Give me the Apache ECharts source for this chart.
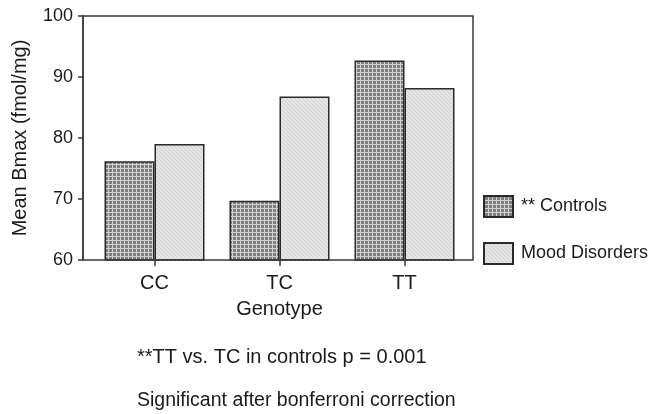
<!DOCTYPE html>
<html>
<head>
<meta charset="utf-8">
<script src="https://cdn.jsdelivr.net/npm/echarts@6/dist/echarts.min.js"></script>
<style>html,body{margin:0;padding:0;background:#fff}#c{width:664px;height:414px}</style>
</head>
<body>
<div id="c"></div>
<script>
var categories = ['CC', 'TC', 'TT'];
var controls = [76.2, 69.7, 92.7];
var moodDisorders = [79.0, 86.8, 88.2];
var seriesNames = ['** Controls', 'Mood Disorders'];
var yTicks = [60, 70, 80, 90, 100];
var footnote1 = '**TT vs. TC in controls p = 0.001';
var footnote2 = 'Significant after bonferroni correction';

function makePattern(kind) {
  var c = document.createElement('canvas');
  var ctx = c.getContext('2d');
  c.width = 4; c.height = 4;
  if (kind === 'grid') {
    ctx.fillStyle = '#7e7e7e';
    ctx.fillRect(0, 0, 4, 4);
    ctx.fillStyle = '#d2d2d2';
    ctx.fillRect(0, 0, 4, 1);
    ctx.fillRect(0, 0, 1, 4);
  } else {
    ctx.fillStyle = '#e4e4e4';
    ctx.fillRect(0, 0, 4, 4);
    ctx.fillStyle = '#d0d0d0';
    for (var i = 0; i < 4; i++) ctx.fillRect(i, i, 1, 1);
  }
  return c;
}

var font = 'Liberation Sans, Arial, Helvetica, sans-serif';
var txt = '#1a1a1a';
var chart = echarts.init(document.getElementById('c'), null, {renderer: 'canvas'});
chart.setOption({
  animation: false,
  backgroundColor: '#fff',
  textStyle: {fontFamily: font, color: txt},
  grid: {left: 92, right: 197, top: 16, bottom: 154},
  graphic: [{
    type: 'rect',
    shape: {x: 83, y: 16, width: 390, height: 244},
    style: {fill: 'none', stroke: '#3a3a3a', lineWidth: 1.5},
    z: 10
  }],
  title: [
    {text: footnote1, left: 137, top: 347, padding: 0, textStyle: {fontFamily: font, fontSize: 20, fontWeight: 'normal', color: txt}},
    {text: footnote2, left: 137, top: 391, padding: 0, textStyle: {fontFamily: font, fontSize: 19.5, fontWeight: 'normal', color: txt}}
  ],
  legend: {
    orient: 'vertical',
    left: 478, top: 190,
    icon: 'rect',
    itemWidth: 29, itemHeight: 21, itemGap: 24,
    textStyle: {fontFamily: font, fontSize: 18, color: txt, padding: [0, 0, 0, 3]},
    data: seriesNames
  },
  xAxis: {
    type: 'category',
    data: categories,
    axisLine: {show: false},
    axisTick: {show: true, alignWithLabel: true, length: 6, lineStyle: {color: '#3a3a3a', width: 1.5}},
    axisLabel: {fontSize: 20, color: txt, margin: 13, fontFamily: font},
    name: 'Genotype',
    nameLocation: 'middle',
    nameGap: 39,
    nameTextStyle: {fontSize: 20, color: txt, fontFamily: font}
  },
  yAxis: {
    type: 'value',
    min: yTicks[0], max: yTicks[yTicks.length - 1], interval: 10,
    offset: 9,
    splitLine: {show: false},
    axisLine: {show: true, lineStyle: {color: '#3a3a3a', width: 1.5}},
    axisTick: {show: true, length: 5, lineStyle: {color: '#3a3a3a', width: 1.5}},
    axisLabel: {fontSize: 18, color: txt, margin: 10, fontFamily: font},
    name: 'Mean Bmax (fmol/mg)',
    nameLocation: 'middle',
    nameGap: 53,
    nameTextStyle: {fontSize: 20, color: txt, fontFamily: font}
  },
  series: [{
    name: seriesNames[0], type: 'bar', data: controls,
    barWidth: 50, barGap: '0%',
    itemStyle: {color: {image: makePattern('grid'), repeat: 'repeat'}, borderColor: '#2a2a2a', borderWidth: 1.5}
  }, {
    name: seriesNames[1], type: 'bar', data: moodDisorders,
    barWidth: 50, barGap: '0%',
    itemStyle: {color: {image: makePattern('hatch'), repeat: 'repeat'}, borderColor: '#2a2a2a', borderWidth: 1.5}
  }]
});
</script>
</body>
</html>
